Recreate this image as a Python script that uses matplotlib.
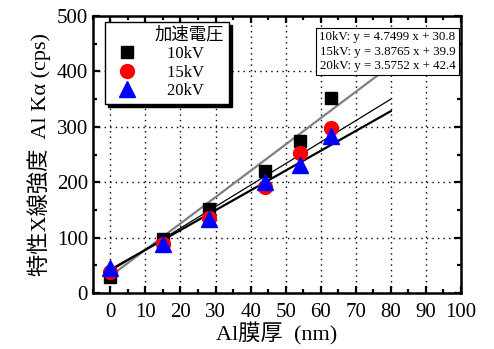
import matplotlib
matplotlib.use("Agg")
import matplotlib.pyplot as plt
import numpy as np
from matplotlib.ticker import MultipleLocator

plt.rcParams['font.family'] = ['Liberation Serif', 'Noto Sans CJK JP']

# measured data (Al film thickness nm, intensity cps)
thick = [0, 15, 28, 44, 54, 63]
i10 = [30, 97, 152, 220, 275, 353]
i15 = [38, 88, 135, 192, 253, 298]
i20 = [45, 88, 133, 200, 232, 283]

# linear fits
fit10 = (4.7499, 30.8)
fit15 = (3.8765, 39.9)
fit20 = (3.5752, 42.4)
fit_x = [0, 80]

fig = plt.figure(figsize=(4.94, 3.49), dpi=100)
ax = fig.add_axes([0.188, 0.160, 0.745, 0.794])

xf = np.array(fit_x)
ax.plot(xf, fit10[0]*xf+fit10[1], color="gray", lw=1.6, zorder=2)
ax.plot(xf, fit15[0]*xf+fit15[1], color="black", lw=0.9, zorder=2)
ax.plot(xf, fit20[0]*xf+fit20[1], color="black", lw=1.6, zorder=2)

ax.plot(thick, i10, "s", color="black", ms=9, label="10kV     ", zorder=3)
ax.plot(thick, i15, "o", color="red", ms=10, label="15kV     ", zorder=3)
ax.plot(thick, i20, "^", color="blue", ms=11, label="20kV     ", zorder=3)

ax.set_xlim(-5, 100)
ax.set_ylim(0, 500)
ax.xaxis.set_major_locator(MultipleLocator(10))
ax.xaxis.set_minor_locator(MultipleLocator(5))
ax.yaxis.set_major_locator(MultipleLocator(100))
ax.yaxis.set_minor_locator(MultipleLocator(50))
ax.tick_params(which="both", direction="in", top=True, right=True, labelsize=15, width=1.6)
ax.tick_params(which="major", length=5)
ax.tick_params(which="minor", length=3)
ax.tick_params(axis="x", pad=7)
for s in ax.spines.values():
    s.set_linewidth(1.8)
ax.grid(True, which="major", ls=(0, (1, 3)), color="black", lw=1)

ax.set_xlabel("Al膜厚  (nm)", fontsize=16, labelpad=0)
ax.set_ylabel("特性X線強度  Al Kα (cps)", fontsize=16, labelpad=4)

leg = ax.legend(loc="upper left", title="加速電圧", fontsize=12, title_fontsize=12.5,
                frameon=True, fancybox=False, shadow={"color": "black", "alpha": 1},
                edgecolor="black", framealpha=1, borderpad=0.3, handletextpad=1.4,
                labelspacing=0.15, borderaxespad=0, bbox_to_anchor=(0.033, 0.978))
leg._legend_box.align = "right"
leg.get_frame().set_linewidth(1)

eq = ("10kV: y = %.4f x + %.1f\n15kV: y = %.4f x + %.1f\n20kV: y = %.4f x + %.1f"
      % (fit10 + fit15 + fit20))
ax.text(0.985, 0.945, eq, transform=ax.transAxes, ha="right", va="top", fontsize=9.3,
        linespacing=1.25,
        bbox=dict(boxstyle="square,pad=0.25", fc="white", ec="black", lw=0.8))

fig.savefig("out.png", dpi=100)
